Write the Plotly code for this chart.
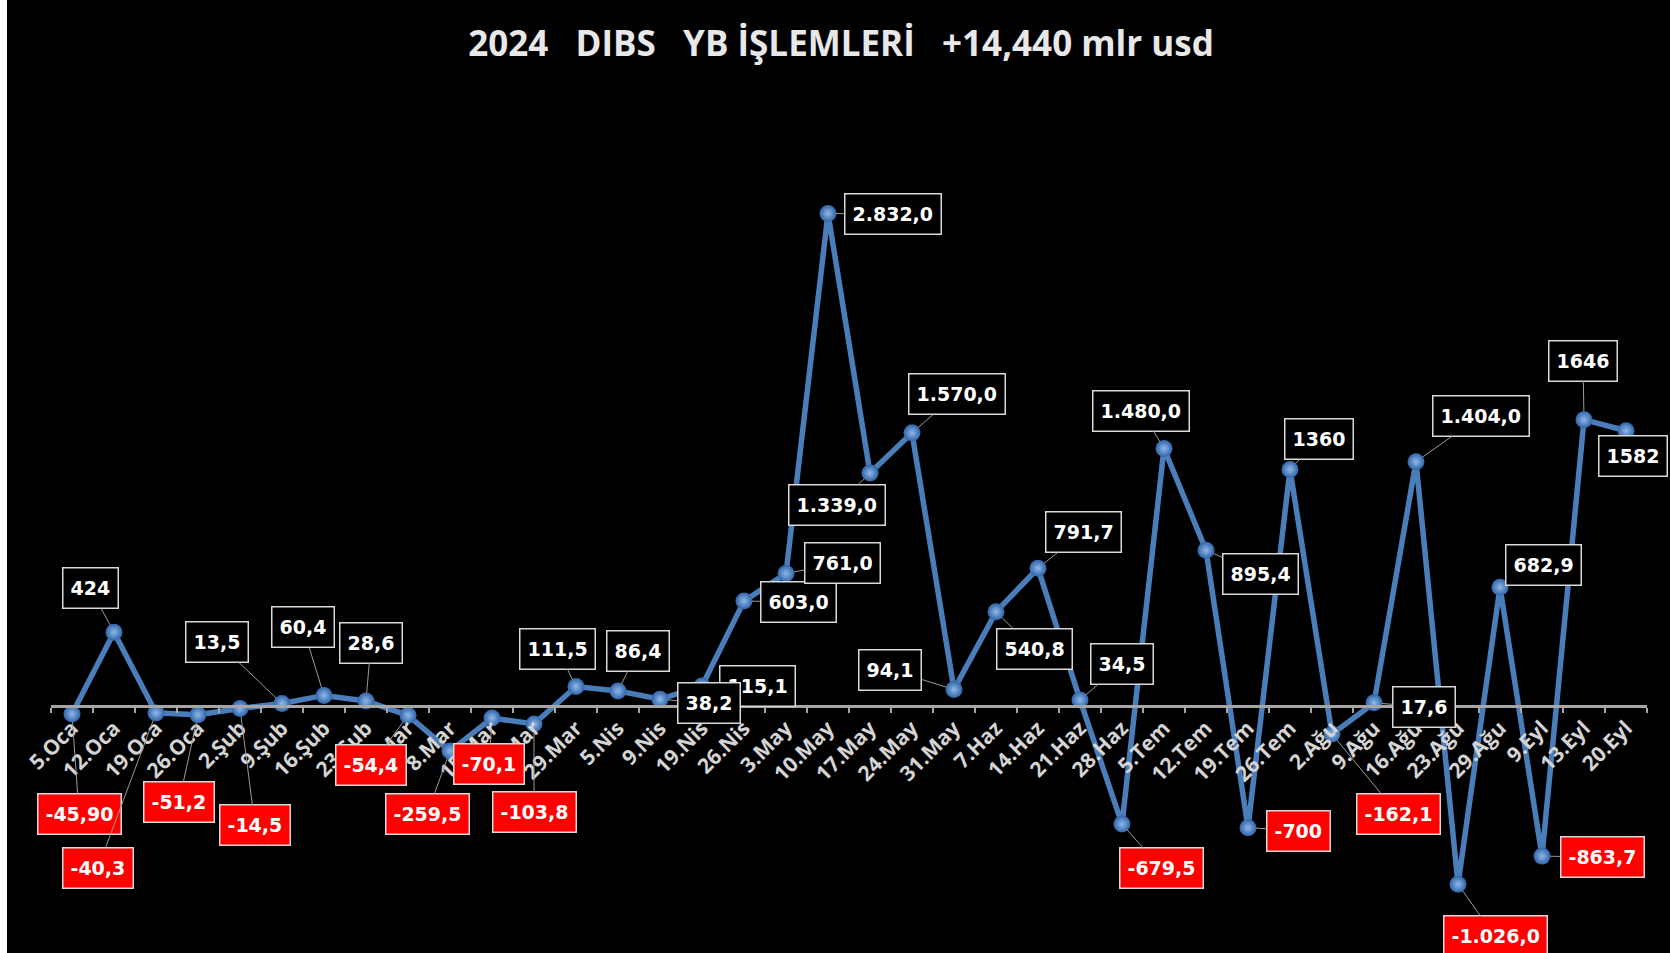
import plotly.graph_objects as go

categories = ["5.Oca", "12.Oca", "19.Oca", "26.Oca", "2.Şub", "9.Şub", "16.Şub", "23.Şub",
              "1.Mar", "8.Mar", "15.Mar", "22.Mar", "29.Mar", "5.Nis", "9.Nis", "19.Nis",
              "26.Nis", "3.May", "10.May", "17.May", "24.May", "31.May", "7.Haz", "14.Haz",
              "21.Haz", "28.Haz", "5.Tem", "12.Tem", "19.Tem", "26.Tem", "2.Ağu", "9.Ağu",
              "16.Ağu", "23.Ağu", "29.Ağu", "9.Eyl", "13.Eyl", "20.Eyl"]

values = [-45.9, 424, -40.3, -51.2, -14.5, 13.5, 60.4, 28.6,
          -54.4, -259.5, -70.1, -103.8, 111.5, 86.4, 38.2, 115.1,
          603.0, 761.0, 2832.0, 1339.0, 1570.0, 94.1, 540.8, 791.7,
          34.5, -679.5, 1480.0, 895.4, -700, 1360, -162.1, 17.6,
          1404.0, -1026.0, 682.9, -863.7, 1646, 1582]

value_labels = ["-45,90", "424", "-40,3", "-51,2", "-14,5", "13,5", "60,4", "28,6",
                "-54,4", "-259,5", "-70,1", "-103,8", "111,5", "86,4", "38,2", "115,1",
                "603,0", "761,0", "2.832,0", "1.339,0", "1.570,0", "94,1", "540,8", "791,7",
                "34,5", "-679,5", "1.480,0", "895,4", "-700", "1360", "-162,1", "17,6",
                "1.404,0", "-1.026,0", "682,9", "-863,7", "1646", "1582"]

# label box offsets from their point (pixels)
label_offsets = [(7, 100), (-24, -44), (-58, 155), (-19, 87), (15, 117), (-65, -62), (-21, -68), (5, -58),
                 (-37, 50), (-23, 63), (-3, 46), (0, 88), (-19, -38), (20, -40), (49, 4), (55, 0),
                 (54, 1), (56, -11), (65, 1), (-33, 32), (45, -39), (-64, -20), (38, 37), (45, -36),
                 (42, -36), (39, 44), (-23, -38), (54, 24), (50, 3), (29, -30), (66, 80), (50, 4),
                 (65, -46), (37, 52), (43, -22), (60, 1), (-1, -59), (7, 25)]

title_text = "2024\u00a0\u00a0\u00a0DIBS\u00a0\u00a0\u00a0YB İŞLEMLERİ\u00a0\u00a0\u00a0+14,440 mlr usd"

W, H = 1670, 953
L, R, T, B = 51, 23, 132, 21
YMIN, YMAX = -1300, 3300

fig = go.Figure()
fig.add_trace(go.Scatter(
    x=categories, y=values, mode="lines+markers",
    line=dict(color="#4a7ebb", width=5.5),
    marker=dict(size=17, color="#2f64a8",
                gradient=dict(type="radial", color="#8fb8e8"),
                line=dict(width=0)),
    hoverinfo="x+y", showlegend=False, cliponaxis=False,
))

annotations = []
for c, v, t, (dx, dy) in zip(categories, values, value_labels, label_offsets):
    neg = v < 0
    annotations.append(dict(
        x=c, y=v, xref="x", yref="y", text=t,
        showarrow=True, arrowhead=0, arrowwidth=1, arrowcolor="#9a9a9a",
        ax=dx, ay=dy, standoff=8,
        height=25,
        bgcolor="#ff0000" if neg else "#000000",
        bordercolor="#d9d9d9", borderwidth=1.5, borderpad=7,
        font=dict(family="DejaVu Sans", size=19, color="#ffffff", weight="bold"),
    ))
# draw the "38,2" label above its overlapping neighbour
annotations.append(annotations.pop(14))

fig.update_layout(
    width=W, height=H,
    margin=dict(l=L, r=R, t=T, b=B, autoexpand=False),
    paper_bgcolor="#000000", plot_bgcolor="#000000",
    title=dict(text=title_text, x=841 / W, xanchor="center", y=1 - 43.5 / H, yanchor="middle",
               font=dict(family="Open Sans", size=35, color="#e8e8e8", weight="bold")),
    xaxis=dict(type="category", range=[-0.5, len(categories) - 0.5],
               anchor="free", position=(0 - YMIN) / (YMAX - YMIN),
               showline=True, linecolor="#a6a6a6", linewidth=2.5,
               ticks="outside", tickson="boundaries", ticklen=5, tickwidth=2, tickcolor="#a6a6a6",
               tickangle=-45, showgrid=False, zeroline=False,
               tickfont=dict(family="Open Sans", size=21, color="#d4d4d4", weight="bold")),
    yaxis=dict(range=[YMIN, YMAX], visible=False, showgrid=False, zeroline=False),
    annotations=annotations,
    shapes=[dict(type="rect", xref="paper", yref="paper",
                 x0=-L / (W - L - R), x1=(7 - L) / (W - L - R),
                 y0=-0.2, y1=1.3, fillcolor="#ffffff", line=dict(width=0), layer="below")],
)

fig.write_html("out.html", config={"displayModeBar": False},
               post_script="document.body.style.margin='0';document.body.style.overflow='hidden';")
